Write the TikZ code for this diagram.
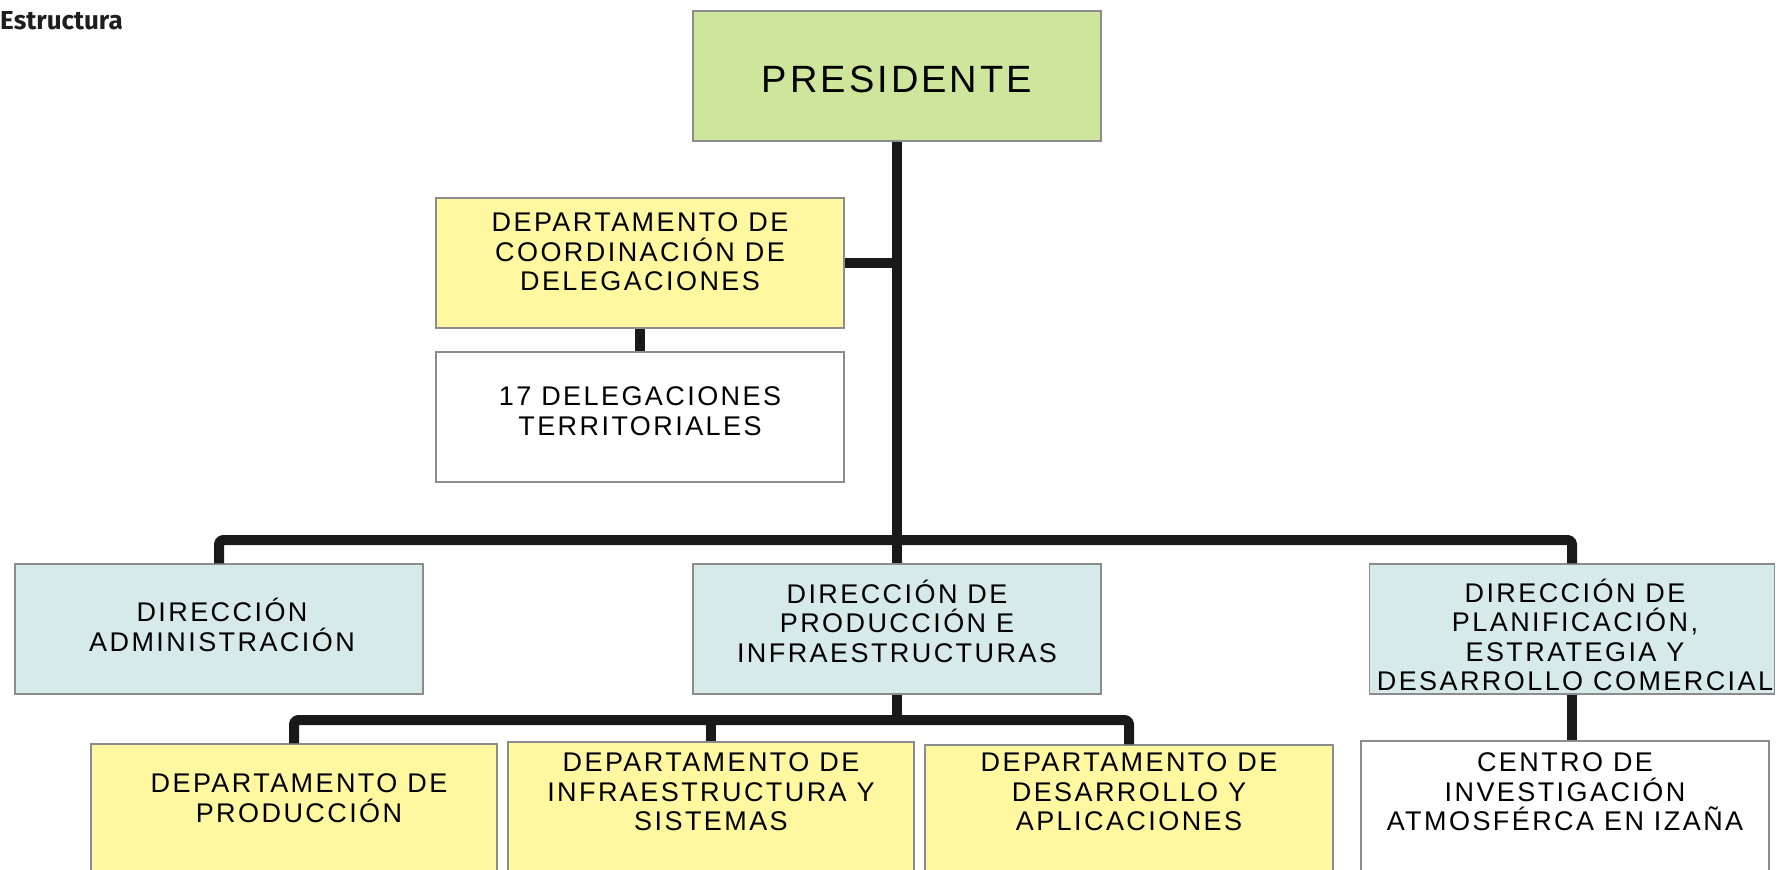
\documentclass[tikz,border=0pt]{standalone}
\usepackage{fontspec}
\setmainfont{Liberation Sans}
\newfontfamily\boxfont[LetterSpace=9]{Liberation Sans}
\newfontfamily\presfont[LetterSpace=8]{Liberation Sans}
\newfontfamily\titlefont{Fira Sans}
\definecolor{presgreen}{RGB}{205,230,155}
\definecolor{depyellow}{RGB}{255,248,160}
\definecolor{dirblue}{RGB}{214,234,234}
\definecolor{boxborder}{RGB}{140,140,140}
\definecolor{linecol}{RGB}{25,25,25}
\definecolor{titlegray}{RGB}{30,30,30}
\begin{document}
\begin{tikzpicture}[x=1pt,y=-1pt,
  box/.style={draw=boxborder, line width=1.5pt, inner sep=0pt},
  lbl/.style={font=\boxfont\fontsize{27}{29.5}\selectfont, align=center, inner sep=0pt, text=black},
  conn/.style={draw=linecol, line width=10pt, line join=round, line cap=butt, rounded corners=4pt}]
\useasboundingbox (0,0) rectangle (1778,870);
\clip (0,0) rectangle (1778,870);
% boxes
\node[box, fill=presgreen, minimum width=408pt, minimum height=130pt] (pres) at (897,76) {};
\node[box, fill=depyellow, minimum width=408pt, minimum height=130pt] (coord) at (640,263) {};
\node[box, fill=white, minimum width=408pt, minimum height=130pt] (deleg) at (640,417) {};
\node[box, fill=dirblue, minimum width=408pt, minimum height=130pt] (admin) at (219,629) {};
\node[box, fill=dirblue, minimum width=408pt, minimum height=130pt] (dprod) at (897,629) {};
\node[box, fill=dirblue, minimum width=405pt, minimum height=130pt] (dplan) at (1572,629) {};
\node[box, fill=depyellow, minimum width=406pt, minimum height=160pt] (prod) at (294,824) {};
\node[box, fill=depyellow, minimum width=406pt, minimum height=160pt] (infra) at (711,822) {};
\node[box, fill=depyellow, minimum width=408pt, minimum height=160pt] (desa) at (1129,825) {};
\node[box, fill=white, minimum width=408pt, minimum height=160pt] (centro) at (1565,821) {};
% connectors
\coordinate (bar1) at (897,540);
\coordinate (bar2) at (897,720);
\draw[conn] (pres.south) -- (dprod.north);
\draw[conn] (coord.east) -- (coord.east -| pres.south);
\draw[conn] (coord.south) -- (deleg.north);
\draw[conn] (admin.north) |- (bar1) -| (dplan.north);
\draw[conn] (dplan.south) -- (dplan.south |- centro.north);
\draw[conn] (dprod.south) -- (bar2);
\draw[conn] (prod.north) |- (bar2) -| (desa.north);
\draw[conn] (bar2 -| infra.north) -- (infra.north);
% texts
\node[lbl, font=\presfont\fontsize{38}{42}\selectfont] (tpres) at (897,79) {PRESIDENTE};
\node[lbl] (tcoord) at (640,252) {DEPARTAMENTO DE\\COORDINACIÓN DE\\DELEGACIONES};
\node[lbl] (tdeleg) at (640,411) {17 DELEGACIONES\\TERRITORIALES};
\node[lbl] (tadmin) at (222,625) {DIRECCIÓN\\ADMINISTRACIÓN};
\node[lbl] (tdprod) at (897,621) {DIRECCIÓN DE\\PRODUCCIÓN E\\INFRAESTRUCTURAS};
\node[lbl] (tdplan) at (1575,635) {DIRECCIÓN DE\\PLANIFICACIÓN,\\ESTRATEGIA Y\\DESARROLLO COMERCIAL};
\node[lbl] (tprod) at (299,798) {DEPARTAMENTO DE\\PRODUCCIÓN};
\node[lbl] (tinfra) at (711,792) {DEPARTAMENTO DE\\INFRAESTRUCTURA Y\\SISTEMAS};
\node[lbl] (tdesa) at (1129,792) {DEPARTAMENTO DE\\DESARROLLO Y\\APLICACIONES};
\node[lbl] (tcentro) at (1565,792) {CENTRO DE\\INVESTIGACIÓN\\ATMOSFÉRCA EN IZAÑA};
\node[anchor=base west, font=\titlefont\bfseries\fontsize{26}{30}\selectfont, text=titlegray, inner sep=0pt] (title) at (0,29) {Estructura};
\end{tikzpicture}
\end{document}
